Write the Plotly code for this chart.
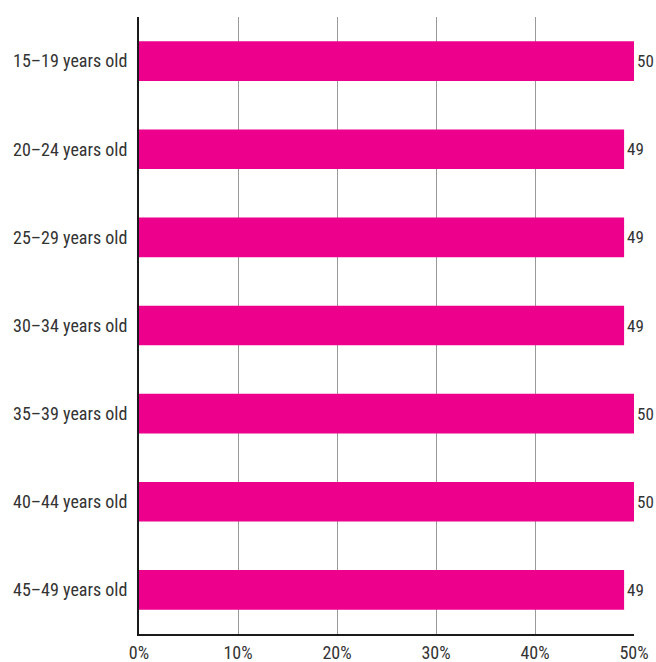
import plotly.graph_objects as go

categories = ["15–19 years old", "20–24 years old", "25–29 years old", "30–34 years old",
              "35–39 years old", "40–44 years old", "45–49 years old"]
values = [50, 49, 49, 49, 50, 50, 49]
tick_vals = [0, 10, 20, 30, 40, 50]
tick_text = ["0%", "10%", "20%", "30%", "40%", "50%"]

FONT = "Roboto Condensed, Liberation Sans Narrow, DejaVu Sans Condensed, sans-serif"

fig = go.Figure(go.Bar(
    y=categories, x=values, orientation="h",
    marker=dict(color="#EC008C", line=dict(width=0)),
    width=0.45,
    text=[str(v) for v in values], textposition="outside",
    textfont=dict(family=FONT, size=17, color="#333333"),
    cliponaxis=False,
))

fig.update_layout(
    width=656, height=662,
    margin=dict(l=139, r=22, t=17, b=28, autoexpand=False),
    plot_bgcolor="white", paper_bgcolor="white",
    showlegend=False,
    font=dict(family=FONT, size=18, color="#333333"),
    xaxis=dict(range=[0, 50], tickvals=tick_vals, ticktext=tick_text, automargin=False,
               showgrid=True, gridcolor="#999999", gridwidth=1,
               showline=True, linecolor="#1a1a1a", linewidth=2,
               zeroline=False, ticks="", ticklabelstandoff=1,
               tickfont=dict(size=18, color="#333333")),
    yaxis=dict(autorange="reversed", showgrid=False, automargin=False,
               showline=True, linecolor="#1a1a1a", linewidth=2,
               ticks="outside", ticklen=6, tickcolor="rgba(0,0,0,0)",
               tickfont=dict(size=18, color="#333333")),
)

fig.write_html("out.html", config={"displayModeBar": False},
               post_script="document.body.style.margin='0';document.body.style.overflow='hidden';")
